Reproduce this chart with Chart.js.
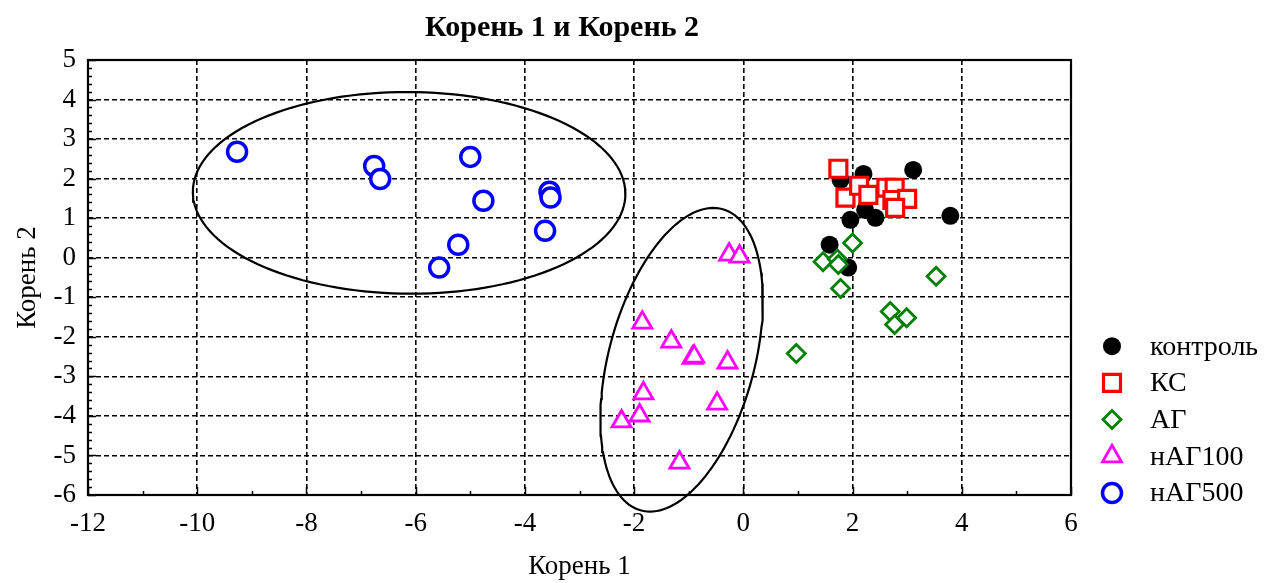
<!DOCTYPE html>
<html>
<head>
<meta charset="utf-8">
<title>Корень 1 и Корень 2</title>
<script src="https://cdn.jsdelivr.net/npm/chart.js@4/dist/chart.umd.min.js"></script>
<style>
  html, body { margin: 0; padding: 0; background: #fff; }
  #wrap { width: 1267px; height: 583px; }
</style>
</head>
<body>
<div id="wrap"><canvas id="chart" width="1267" height="583"></canvas></div>
<script>
// group names (legend order)
const GROUPS = ["контроль", "КС", "АГ", "нАГ100", "нАГ500"];

// canonical scores
const kontrolX = [1.78, 2.20, 3.11, 3.79, 1.96, 2.42, 2.23, 1.58, 1.92];
const kontrolY = [1.97, 2.12, 2.22, 1.06, 0.96, 1.01, 1.21, 0.33, -0.25];

const ksX = [1.74, 1.87, 2.12, 2.29, 2.62, 2.77, 2.73, 3.00, 2.78];
const ksY = [2.25, 1.52, 1.82, 1.59, 1.77, 1.77, 1.46, 1.49, 1.26];

const agX = [2.00, 1.46, 1.72, 1.74, 1.78, 3.53, 2.69, 2.99, 2.77, 0.97];
const agY = [0.37, -0.10, -0.03, -0.17, -0.78, -0.47, -1.36, -1.52, -1.69, -2.42];

const nag100X = [-0.26, -0.07, -1.85, -1.32, -0.93, -0.90, -0.29, -1.83, -1.90, -2.23, -0.48, -1.17];
const nag100Y = [0.08, 0.03, -1.64, -2.12, -2.53, -2.50, -2.65, -3.43, -3.99, -4.14, -3.69, -5.18];

const nag500X = [-9.27, -6.76, -6.65, -5.00, -4.76, -3.55, -3.53, -3.63, -5.22, -5.57];
const nag500Y = [2.68, 2.32, 1.99, 2.55, 1.44, 1.67, 1.52, 0.68, 0.33, -0.25];

// axis ticks
const xTicks = [-12, -10, -8, -6, -4, -2, 0, 2, 4, 6];
const yTicks = [-6, -5, -4, -3, -2, -1, 0, 1, 2, 3, 4, 5];

// the two ellipses: centre, and the two conjugate half-axes (data units)
const ellCx = [-6.12, -1.13];
const ellCy = [1.64, -2.58];
const ellUx = [-0.04, 0.58];
const ellUy = [2.55, 3.84];
const ellVx = [3.96, 1.37];
const ellVy = [0, 0];

const FONT = "'Liberation Serif', 'Times New Roman', serif";
Chart.defaults.font.family = FONT;
Chart.defaults.color = "#000";

function zip(xs, ys) {
  return xs.map((x, i) => ({ x: x, y: ys[i] }));
}

function ellipse(i) {
  const pts = [];
  for (let k = 0; k <= 144; k++) {
    const t = (2 * Math.PI * k) / 144;
    pts.push({
      x: ellCx[i] + ellUx[i] * Math.cos(t) + ellVx[i] * Math.sin(t),
      y: ellCy[i] + ellUy[i] * Math.cos(t) + ellVy[i] * Math.sin(t),
    });
  }
  return pts;
}

const datasets = [
  { label: GROUPS[0], data: zip(kontrolX, kontrolY), pointStyle: "circle", pointRadius: 9,
    backgroundColor: "#000", borderColor: "#000", borderWidth: 0, order: 5 },
  { label: GROUPS[1], data: zip(ksX, ksY), pointStyle: "rect", pointRadius: 12,
    backgroundColor: "#fff", borderColor: "#ff0000", borderWidth: 3.2, order: 4 },
  { label: GROUPS[2], data: zip(agX, agY), pointStyle: "rectRot", pointRadius: 9,
    backgroundColor: "#fff", borderColor: "#008000", borderWidth: 2.8, order: 3 },
  { label: GROUPS[3], data: zip(nag100X, nag100Y), pointStyle: "triangle", pointRadius: 11,
    backgroundColor: "#fff", borderColor: "#ff00ff", borderWidth: 2.8, order: 2 },
  { label: GROUPS[4], data: zip(nag500X, nag500Y), pointStyle: "circle", pointRadius: 9.5,
    backgroundColor: "#fff", borderColor: "#0000ff", borderWidth: 3.5, order: 1 },
];

[0, 1].forEach((i) => {
  datasets.push({
    label: "",
    type: "line",
    data: ellipse(i),
    showLine: true,
    fill: false,
    tension: 0,
    pointRadius: 0,
    pointHoverRadius: 0,
    borderColor: "#000",
    borderWidth: 2.2,
    clip: false,
    order: 10,
  });
});

// solid frame + inward ticks, like the original
const framePlugin = {
  id: "frame",
  beforeDatasetsDraw(chart) {
    const { ctx, chartArea: a, scales } = chart;
    ctx.save();
    ctx.strokeStyle = "#000";
    ctx.lineWidth = 1.5;
    ctx.beginPath();
    for (let v = -6; v <= 5.001; v += 0.2) {
      const y = Math.round(scales.y.getPixelForValue(v)) + 0.5;
      const len = Math.abs(v - Math.round(v)) < 0.01 ? 8 : 4;
      ctx.moveTo(a.left, y);
      ctx.lineTo(a.left + len, y);
    }
    for (let v = -12; v <= 6; v += 1) {
      const x = Math.round(scales.x.getPixelForValue(v)) + 0.5;
      const len = v % 2 === 0 ? 8 : 4;
      ctx.moveTo(x, a.bottom);
      ctx.lineTo(x, a.bottom - len);
    }
    ctx.stroke();
    ctx.lineWidth = 2.2;
    ctx.strokeRect(a.left, a.top, a.right - a.left, a.bottom - a.top);
    ctx.restore();
  },
};

// legend at the lower right, drawn with each dataset's own marker
const legendPlugin = {
  id: "sideLegend",
  afterLayout(chart) {
    // title sits a little left of the plot centre
    chart.titleBlock.left = 0;
    chart.titleBlock.right = chart.chartArea.right + 53;
  },
  afterDraw(chart) {
    const { ctx, chartArea: a } = chart;
    const step = 36.7;
    const mx = a.right + 41;
    const tx = a.right + 79;
    const n = GROUPS.length;
    ctx.save();
    ctx.font = "28px " + FONT;
    ctx.textBaseline = "middle";
    ctx.textAlign = "left";
    GROUPS.forEach((name, i) => {
      const ds = chart.data.datasets[i];
      const y = a.bottom - 2 - (n - 1 - i) * step;
      ctx.fillStyle = ds.backgroundColor;
      ctx.strokeStyle = ds.borderColor;
      ctx.lineWidth = ds.borderWidth;
      Chart.helpers.drawPoint(ctx, {
        pointStyle: ds.pointStyle,
        radius: ds.pointRadius,
        rotation: 0,
        borderWidth: ds.borderWidth,
      }, mx, y);
      ctx.fillStyle = "#000";
      ctx.fillText(name, tx, y + 1);
    });
    ctx.restore();
  },
};

new Chart(document.getElementById("chart"), {
  type: "scatter",
  data: { datasets: datasets },
  plugins: [framePlugin, legendPlugin],
  options: {
    responsive: false,
    animation: false,
    layout: { padding: { left: 0, right: 196, top: 0, bottom: 0 } },
    plugins: {
      legend: { display: false },
      tooltip: { enabled: false },
      title: {
        display: true,
        text: "Корень 1 и Корень 2",
        color: "#000",
        font: { family: FONT, size: 30, weight: "bold" },
        padding: { top: 10, bottom: 14 },
      },
    },
    scales: {
      x: {
        type: "linear",
        min: -12,
        max: 6,
        afterBuildTicks: (s) => { s.ticks = xTicks.map((v) => ({ value: v })); },
        afterFit: (s) => { s.height = 88; },
        ticks: { autoSkip: false, maxRotation: 0, padding: 13, font: { size: 27 },
                 callback: (v) => String(v) },
        grid: { color: "#000", lineWidth: 1.6, drawTicks: false },
        border: { display: false, dash: [5, 3] },
        title: { display: true, text: "Корень 1", font: { size: 27 }, padding: { top: 0, bottom: 0 } },
      },
      y: {
        type: "linear",
        min: -6,
        max: 5,
        afterBuildTicks: (s) => { s.ticks = yTicks.map((v) => ({ value: v })); },
        afterFit: (s) => { s.width = 88; },
        ticks: { autoSkip: false, padding: 12, font: { size: 27 }, callback: (v) => String(v) },
        grid: { color: "#000", lineWidth: 1.6, drawTicks: false },
        border: { display: false, dash: [5, 3] },
        title: { display: true, text: "Корень 2", font: { size: 27 }, padding: { top: 12, bottom: 0 } },
      },
    },
  },
});
</script>
</body>
</html>
